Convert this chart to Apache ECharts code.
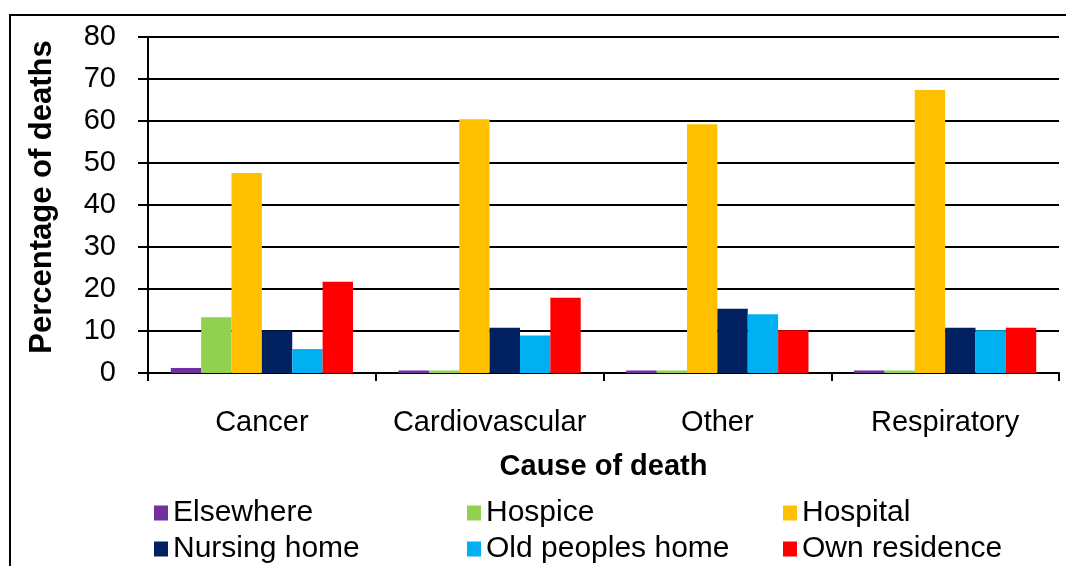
<!DOCTYPE html>
<html><head><meta charset="utf-8">
<script src="https://cdn.jsdelivr.net/npm/echarts@6/dist/echarts.min.js"></script>
<style>html,body{margin:0;padding:0;background:#fff}#c{width:1066px;height:566px}</style>
</head><body><div id="c"></div>
<script>
const categories = ['Cancer', 'Cardiovascular', 'Other', 'Respiratory'];
const elsewhere = [1.2, 0.6, 0.6, 0.6];
const hospice = [13.3, 0.6, 0.6, 0.6];
const hospital = [47.6, 60.4, 59.2, 67.4];
const nursingHome = [10.1, 10.8, 15.3, 10.8];
const oldPeoplesHome = [5.7, 8.9, 14.0, 10.2];
const ownResidence = [21.7, 17.9, 10.2, 10.8];
const yTicks = [0, 10, 20, 30, 40, 50, 60, 70, 80];
const yAxisTitle = 'Percentage of deaths';
const xAxisTitle = 'Cause of death';

const seriesNames = ['Elsewhere', 'Hospice', 'Hospital', 'Nursing home', 'Old peoples home', 'Own residence'];
const seriesData = [elsewhere, hospice, hospital, nursingHome, oldPeoplesHome, ownResidence];
const colors = ['#7030A0', '#92D050', '#FFC000', '#002060', '#00B0F0', '#FF0000'];
const FONT = 'Liberation Sans, Arial, sans-serif';

const legendCols = [154, 467, 783];
const legendRows = [498, 534];
const legends = seriesNames.map((n, i) => ({
  orient: 'horizontal', padding: 0,
  left: legendCols[i % 3], top: legendRows[Math.floor(i / 3)],
  itemWidth: 14, itemHeight: 15, icon: 'rect', selectedMode: false,
  data: [n],
  textStyle: {fontFamily: FONT, fontSize: 30, color: '#000'}
}));

const chart = echarts.init(document.getElementById('c'), null, {renderer: 'canvas'});
chart.setOption({
  animation: false,
  color: colors,
  grid: {left: 148, right: 7, top: 37, bottom: 193, containLabel: false},
  graphic: [{
    type: 'rect', shape: {x: 10, y: 15, width: 1100, height: 600},
    style: {fill: 'none', stroke: '#000', lineWidth: 2}, z: -1
  }, {
    type: 'text', x: 42, y: 197, rotation: Math.PI / 2,
    style: {text: yAxisTitle, fontFamily: FONT, fontSize: 31, fontWeight: 'bold', fill: '#000',
      align: 'center', verticalAlign: 'middle'}
  }],
  legend: legends,
  xAxis: {
    type: 'category', data: categories,
    name: xAxisTitle, nameLocation: 'middle', nameGap: 79,
    nameTextStyle: {fontFamily: FONT, fontSize: 29, fontWeight: 'bold', color: '#000'},
    axisLine: {lineStyle: {color: '#000', width: 2}},
    axisTick: {show: true, length: 8, interval: 0, lineStyle: {color: '#000', width: 2}},
    axisLabel: {fontFamily: FONT, fontSize: 29, color: '#000', margin: 35, interval: 0}
  },
  yAxis: {
    type: 'value', min: 0, max: 80, interval: 10,
    axisLine: {show: true, lineStyle: {color: '#000', width: 2}},
    axisTick: {show: true, length: 10, lineStyle: {color: '#000', width: 2}},
    axisLabel: {fontFamily: FONT, fontSize: 29, color: '#000', margin: 32,
      formatter: v => yTicks.includes(v) ? String(v) : ''},
    splitLine: {show: true, lineStyle: {color: '#000', width: 2}}
  },
  series: seriesNames.map((n, i) => ({
    name: n, type: 'bar', data: seriesData[i],
    barGap: '0%', barCategoryGap: '20%'
  }))
});
</script></body></html>
